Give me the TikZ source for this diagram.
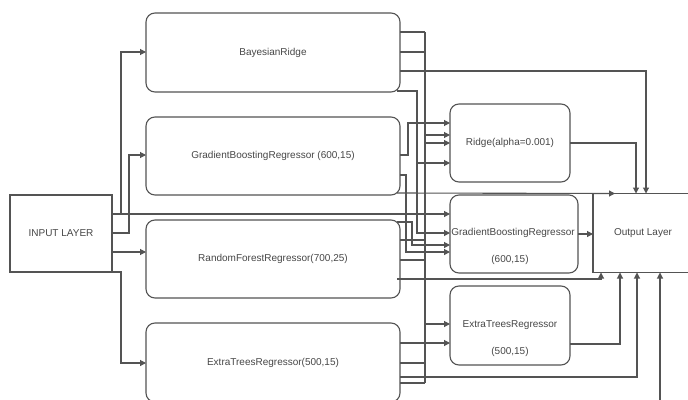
\documentclass[tikz,border=0pt]{standalone}
\usepackage{fontspec}
\setmainfont{Liberation Sans}
\usetikzlibrary{arrows.meta}
\definecolor{linec}{gray}{0.33}
\definecolor{txtc}{gray}{0.28}
\tikzset{
  lin/.style={draw=linec, line width=1.1pt},
  arr/.style={lin, -{Triangle[length=6pt,width=6pt]}},
  rbox/.style={draw=linec, line width=1.1pt, rounded corners=9pt, inner sep=0pt, outer sep=0pt,
    font=\fontsize{10}{12}\selectfont, text=txtc},
  sbox/.style={draw=linec, line width=1.1pt, inner sep=0pt, outer sep=0pt,
    font=\fontsize{10}{12}\selectfont, text=txtc},
  lbl/.style={font=\fontsize{10}{12}\selectfont, text=txtc, inner sep=0pt},
}
\begin{document}
\begin{tikzpicture}[x=1pt,y=-1pt]
\useasboundingbox (0,0) rectangle (688,399);
\clip (0,0) rectangle (688,399);
\fill[white] (0,0) rectangle (688,399);

% nodes
\node[sbox, minimum width=102pt, minimum height=77pt] (inp) at (61,233.5) {INPUT LAYER};
\node[rbox, minimum width=254pt, minimum height=79pt] (br) at (273,52.5) {BayesianRidge};
\node[rbox, minimum width=254pt, minimum height=78pt] (gb) at (273,156) {GradientBoostingRegressor (600,15)};
\node[rbox, minimum width=254pt, minimum height=78pt] (rf) at (273,259) {RandomForestRegressor(700,25)};
\node[rbox, minimum width=254pt, minimum height=79pt] (et) at (273,362.5) {ExtraTreesRegressor(500,15)};
\node[rbox, minimum width=120pt, minimum height=78pt] (ri) at (510,143) {Ridge(alpha=0.001)};
\node[rbox, minimum width=128pt, minimum height=78pt] (g2) at (514,234) {};
\node[rbox, minimum width=120pt, minimum height=79pt] (e2) at (510,325.5) {};
\node[lbl] (g2a) at (513,233) {GradientBoostingRegressor};
\node[lbl] (g2b) at (510,260) {(600,15)};
\node[lbl] (e2a) at (510,325) {ExtraTreesRegressor};
\node[lbl] (e2b) at (510,352) {(500,15)};
\node[inner sep=0pt, outer sep=0pt, minimum width=100pt, minimum height=79pt,
      font=\fontsize{10}{12}\selectfont, text=txtc] (outp) at (643,233) {Output Layer};
\draw[lin] (outp.north east) -- (outp.north west) -- (outp.south west) -- (outp.south east);

% bus
\coordinate (bt) at (425,32);
\coordinate (bb) at (425,383);
\draw[lin] (bt) -- (bb);
\coordinate (offs) at (660,410);

% input layer connectors
\draw[arr] (inp.east|-0,214) -| (121,52) -- (br.west|-0,52);
\draw[arr] (inp.east|-0,214) -- (g2.west|-0,214);
\draw[arr] (inp.east|-0,233) -| (129,155) -- (gb.west|-0,155);
\draw[arr] (inp.east|-0,252) -- (rf.west|-0,252);
\draw[arr] (inp.south east) -| (121,363) -- (et.west|-0,363);

% BayesianRidge outputs
\draw[lin] (br.east|-0,32) -- (bt);
\draw[lin] (br.east|-0,52) -- (425,52);
\draw[arr] (br.east|-0,71) -| (outp.north-|646,0);
\draw[arr] ([xshift=-3pt]br.east|-0,91) -| (417,233) -- (g2.west|-0,233);
\draw[arr] (417,163) -- (ri.west|-0,163);

% GradientBoosting outputs
\draw[arr] (gb.east|-0,155) -| (408,123) -- (ri.west|-0,123);
\draw[arr] (gb.east|-0,175) -| (406,252) -- (g2.west|-0,252);
\draw[arr] ([xshift=-3pt]gb.east|-0,193) -- ([xshift=22pt]outp.north west);

% RandomForest outputs
\draw[arr] ([xshift=-3pt]rf.east|-0,222) -| (412,245) -- (g2.west|-0,245);
\draw[lin] (rf.east|-0,240) -- (425,240);
\draw[lin] (rf.east|-0,260) -- (425,260);
\draw[arr] ([xshift=-3pt]rf.east|-0,279) -| ([xshift=8pt]outp.south west);

% bus to second layer
\draw[arr] (425,135) -- (ri.west|-0,135);
\draw[arr] (425,143) -- (ri.west|-0,143);
\draw[arr] (425,324) -- (e2.west|-0,324);

% ExtraTrees outputs
\draw[arr] (et.east|-0,343) -- (e2.west|-0,343);
\draw[lin] (et.east|-0,363) -- (425,363);
\draw[arr] (et.east|-0,377) -| (outp.south-|637,0);
\draw[lin] (et.east|-0,383) -- (bb);

% second layer outputs
\draw[arr] (ri.east|-0,143) -| (outp.north-|636,0);
\draw[arr] (g2.east) -- (outp.west|-g2.east);
\draw[arr] (e2.east|-0,344) -| (outp.south-|620,0);
\draw[arr] (offs) -- (outp.south-|660,0);
\end{tikzpicture}
\end{document}
